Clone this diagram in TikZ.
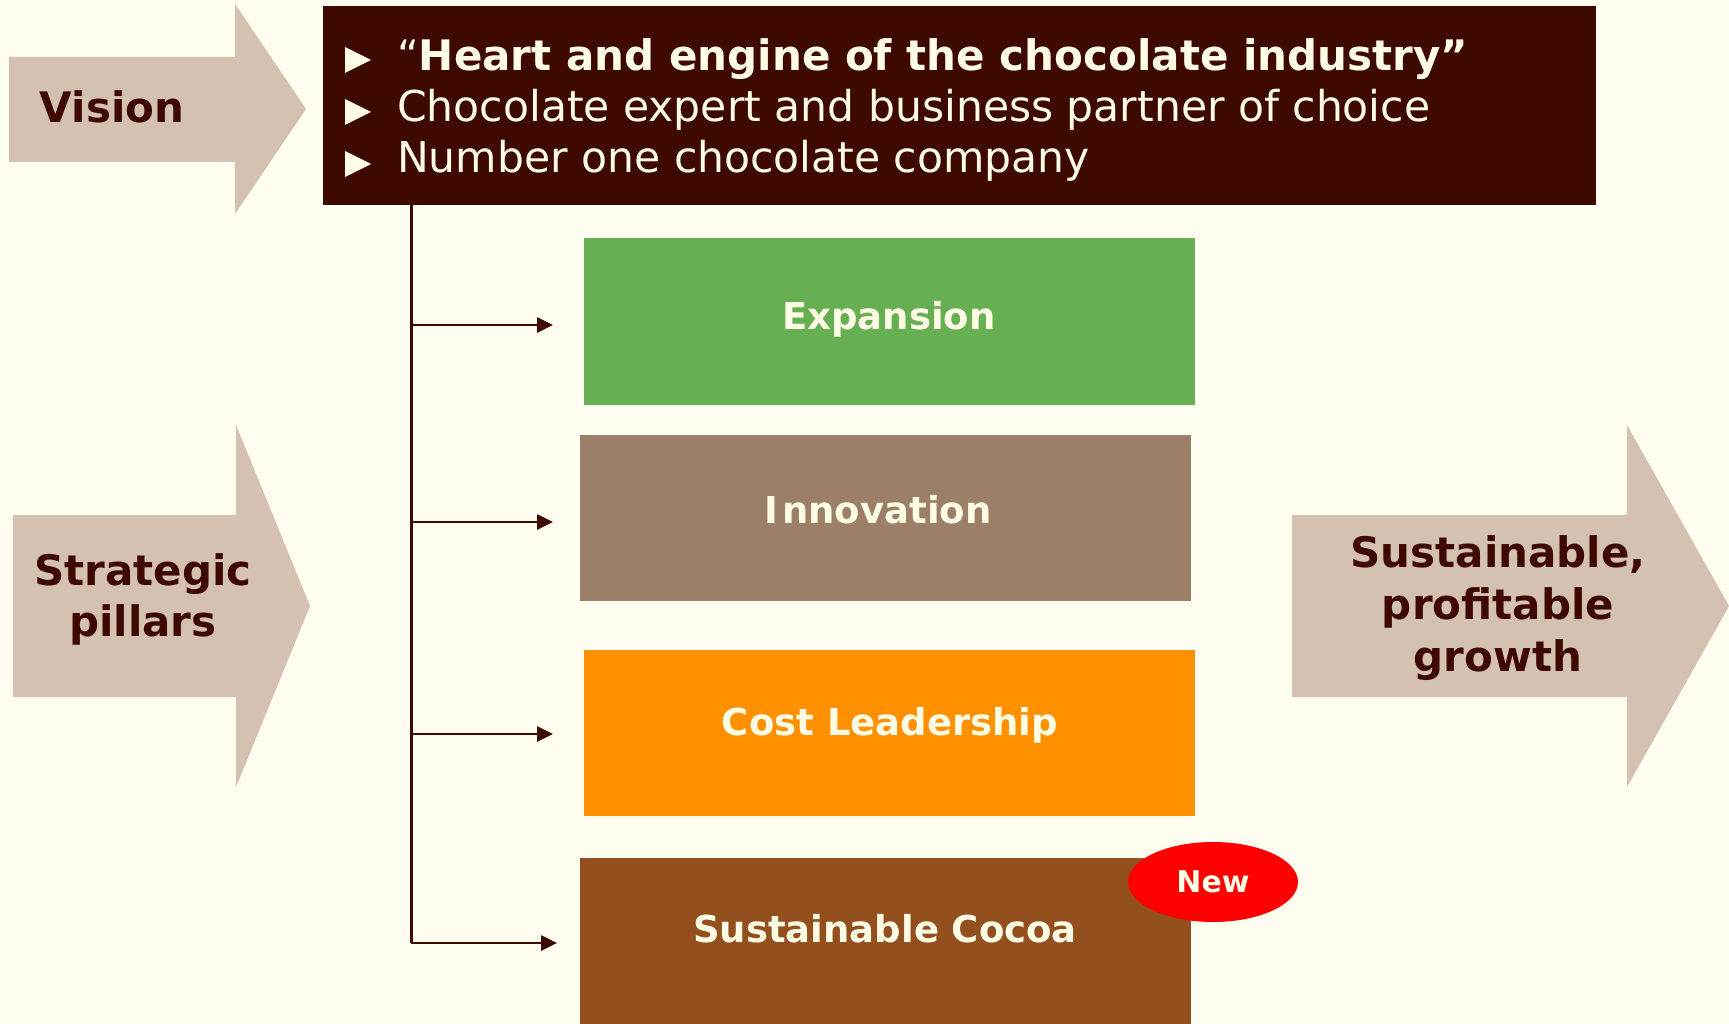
\documentclass[tikz,border=0pt]{standalone}
\usepackage{fontspec}
\setmainfont{DejaVu Sans}
\usetikzlibrary{arrows.meta,shapes.geometric}
\definecolor{bg}{RGB}{255,252,240}
\definecolor{choc}{RGB}{62,10,0}
\definecolor{arrowfill}{RGB}{213,193,177}
\definecolor{cream}{RGB}{255,252,230}
\definecolor{expgreen}{RGB}{102,175,82}
\definecolor{innobrown}{RGB}{155,127,105}
\definecolor{costorange}{RGB}{255,145,0}
\definecolor{cocoabrown}{RGB}{147,80,30}
\definecolor{newred}{RGB}{255,0,0}
\begin{document}
\begin{tikzpicture}[x=1pt,y=-1pt,
  bigarrow/.style={fill=arrowfill},
  arrowlabel/.style={anchor=base, text=choc, inner sep=0pt, font=\bfseries\fontsize{42}{50}\selectfont},
  headline/.style={anchor=base west, text=cream, inner sep=0pt, font=\fontsize{42.5}{50}\selectfont},
  bulletmark/.style={fill=cream},
  pillarbox/.style={rectangle, draw=none, inner sep=0pt, anchor=north west, minimum width=611pt, minimum height=167pt},
  pillarlabel/.style={anchor=base, text=cream, inner sep=0pt, font=\bfseries\fontsize{37}{44}\selectfont},
  trunk/.style={draw=choc, line width=3pt},
  branch/.style={draw=choc, line width=2.6pt, -{Triangle[length=16pt,width=15pt]}},
]
\fill[bg] (0,0) rectangle (1729,1024);
\useasboundingbox (0,0) rectangle (1729,1024);

% big arrows
\fill[bigarrow] (9,57) -- (235,57) -- (235,4) -- (306,109) -- (235,214) -- (235,162) -- (9,162) -- cycle;
\fill[bigarrow] (13,515) -- (236,515) -- (236,425) -- (310,606) -- (236,787) -- (236,697) -- (13,697) -- cycle;
\fill[bigarrow] (1292,515) -- (1627,515) -- (1627,425) -- (1729,606) -- (1627,787) -- (1627,697) -- (1292,697) -- cycle;
\node[arrowlabel] (vision) at (112,123) {Vision};
\node[arrowlabel] (sp1) at (143,585) {Strategic};
\node[arrowlabel] (sp2) at (143,636) {pillars};
\node[arrowlabel] (gr1) at (1498,567) {Sustainable,};
\node[arrowlabel] (gr2) at (1498,619) {profitable};
\node[arrowlabel] (gr3) at (1498,671) {growth};

% header box
\node[rectangle, fill=choc, inner sep=0pt, anchor=north west, minimum width=1273pt, minimum height=199pt] (hdr) at (323,6) {};
\fill[bulletmark] (345,47) -- (371,60) -- (345,73) -- cycle;
\fill[bulletmark] (345,99) -- (371,112) -- (345,125) -- cycle;
\fill[bulletmark] (345,151) -- (371,164) -- (345,177) -- cycle;
\node[headline, font=\fontsize{42}{50}\selectfont] (h1) at (397,71) {{\mdseries “}\textbf{Heart and engine of the chocolate industry”}};
\node[headline] (h2) at (397,122) {Chocolate expert and business partner of choice};
\node[headline] (h3) at (397,173) {Number one chocolate company};

% pillar boxes
\node[pillarbox, fill=expgreen] (exp) at (584,238) {};
\node[pillarbox, fill=innobrown, minimum height=166.5pt] (inn) at (580,434.5) {};
\node[pillarbox, fill=costorange, minimum height=166.5pt] (cost) at (584,649.5) {};
\node[pillarbox, fill=cocoabrown, minimum height=170pt] (coc) at (580,858) {};
\node[pillarlabel] (expl) at (889,329) {Expansion};
\node[pillarlabel] (innl) at (878,523) {I\kern4pt nnovation};
\node[pillarlabel] (costl) at (890,735) {Cost Leadership};
\node[pillarlabel] (cocl) at (885,942) {Sustainable Cocoa};

% New badge
\node[ellipse, fill=newred, inner sep=0pt, minimum width=170pt, minimum height=80pt, text=cream, font=\bfseries\fontsize{30}{36}\selectfont] (new) at (1213,882) {New};

% connectors
\coordinate (j1) at (411,325);
\coordinate (j2) at (411,522);
\coordinate (j3) at (411,734);
\coordinate (j4) at (411,943);
\coordinate (t1) at (553,325);
\coordinate (t2) at (553,522);
\coordinate (t3) at (553,734);
\coordinate (t4) at (557,943);
\draw[trunk] (hdr.south -| j4) -- (j4);
\draw[branch] (j1) -- (t1);
\draw[branch] (j2) -- (t2);
\draw[branch] (j3) -- (t3);
\draw[branch] (j4) -- (t4);
\end{tikzpicture}
\end{document}
